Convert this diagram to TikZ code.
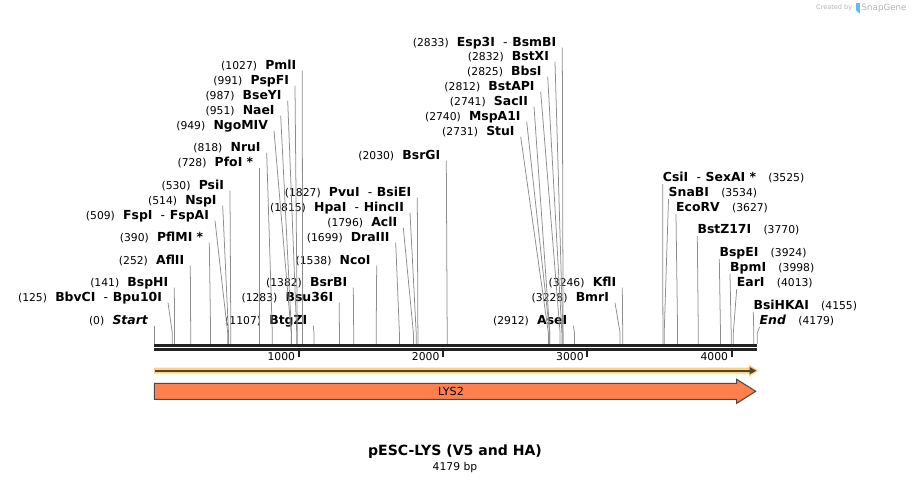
\documentclass[tikz,border=0pt]{standalone}
\usepackage{fontspec}
\setmainfont{DejaVu Sans}
\usetikzlibrary{positioning}
\definecolor{cutgray}{HTML}{8C8C8C}
\definecolor{backbone}{HTML}{222222}
\definecolor{lysfill}{HTML}{FF7F4F}
\definecolor{featedge}{HTML}{4A4A4A}
\definecolor{halo}{HTML}{FFD27F}
\definecolor{primerline}{HTML}{54472F}
\definecolor{creditgray}{HTML}{B4B4B4}
\definecolor{snapblue}{HTML}{5BC0EB}
\newcommand{\posfont}{\fontsize{9.2}{10}\selectfont\mdseries}
\newcommand{\sitefont}{\fontsize{10.6}{12}\selectfont\bfseries}
\newcommand{\lgap}{\hspace{7pt}}
\newcommand{\rgap}{\hspace{10.5pt}}
\newcommand{\enzdash}{\hspace{7pt}{\mdseries -}\hspace{4pt}}
\begin{document}
\begin{tikzpicture}[x=0.03cm,y=-0.03cm,
  lbl/.style={anchor=east, inner xsep=5pt, inner ysep=0.85pt, text height=7.6pt, text depth=0pt, font=\sitefont},
  rlbl/.style={anchor=west, inner xsep=0pt, inner ysep=2.1pt, text height=7.6pt, text depth=0pt, font=\sitefont},
  cut/.style={draw=cutgray, line width=0.65pt},
  tick/.style={draw=backbone, line width=1.7pt},
  ticklbl/.style={anchor=east, inner sep=0pt, font=\posfont}]
\useasboundingbox (0,0) rectangle (912,483);
\coordinate (bend) at (0,333);
% sites on the backbone
\coordinate (start-s) at (154.3,344);
\coordinate (bbvci-s) at (172.3,344);
\coordinate (bsphi-s) at (174.6,344);
\coordinate (aflii-s) at (190.7,344);
\coordinate (pflmi-s) at (210.6,344);
\coordinate (fspi-s) at (227.7,344);
\coordinate (nspi-s) at (228.5,344);
\coordinate (psii-s) at (230.8,344);
\coordinate (pfoi-s) at (259.3,344);
\coordinate (nrui-s) at (272.3,344);
\coordinate (ngomiv-s) at (291.2,344);
\coordinate (naei-s) at (291.5,344);
\coordinate (bseyi-s) at (296.7,344);
\coordinate (pspfi-s) at (297.3,344);
\coordinate (pmli-s) at (302.5,344);
\coordinate (btgzi-s) at (314.0,344);
\coordinate (bsu36i-s) at (339.4,344);
\coordinate (bsrbi-s) at (353.7,344);
\coordinate (ncoi-s) at (376.2,344);
\coordinate (draiii-s) at (399.4,344);
\coordinate (acli-s) at (413.4,344);
\coordinate (hpai-s) at (416.2,344);
\coordinate (pvui-s) at (417.9,344);
\coordinate (bsrgi-s) at (447.2,344);
\coordinate (stui-s) at (548.4,344);
\coordinate (mspa1i-s) at (549.7,344);
\coordinate (sacii-s) at (549.8,344);
\coordinate (bstapi-s) at (560.1,344);
\coordinate (bbsi-s) at (561.9,344);
\coordinate (bstxi-s) at (562.9,344);
\coordinate (esp3i-s) at (563.1,344);
\coordinate (asei-s) at (574.5,344);
\coordinate (bmri-s) at (620.1,344);
\coordinate (kfli-s) at (622.7,344);
\coordinate (csii-s) at (662.9,344);
\coordinate (snabi-s) at (664.2,344);
\coordinate (ecorv-s) at (677.6,344);
\coordinate (bstz17i-s) at (698.3,344);
\coordinate (bspei-s) at (720.5,344);
\coordinate (bpmi-s) at (731.2,344);
\coordinate (eari-s) at (733.3,344);
\coordinate (bsihkai-s) at (753.8,344);
\coordinate (end-s) at (757.3,344);
% labels left of their lines
\node[lbl] (start) at (154.3,320) {{\posfont(0)}\lgap\textit{Start}};
\node[lbl] (bbvci) at (168,297) {{\posfont(125)}\lgap BbvCI\enzdash Bpu10I};
\node[lbl] (bsphi) at (174.3,282) {{\posfont(141)}\lgap BspHI};
\node[lbl] (aflii) at (190.3,260) {{\posfont(252)}\lgap AflII};
\node[lbl] (pflmi) at (209.3,237) {{\posfont(390)}\lgap PflMI *};
\node[lbl] (fspi) at (215,215) {{\posfont(509)}\lgap FspI\enzdash FspAI};
\node[lbl] (nspi) at (222.7,200) {{\posfont(514)}\lgap NspI};
\node[lbl] (psii) at (230,185) {{\posfont(530)}\lgap PsiI};
\node[lbl] (pfoi) at (259.3,162) {{\posfont(728)}\lgap PfoI *};
\node[lbl] (nrui) at (266.7,147) {{\posfont(818)}\lgap NruI};
\node[lbl] (ngomiv) at (274,125) {{\posfont(949)}\lgap NgoMIV};
\node[lbl] (naei) at (280.7,110) {{\posfont(951)}\lgap NaeI};
\node[lbl] (bseyi) at (287.7,95) {{\posfont(987)}\lgap BseYI};
\node[lbl] (pspfi) at (295,80) {{\posfont(991)}\lgap PspFI};
\node[lbl] (pmli) at (302.3,65) {{\posfont(1027)}\lgap PmlI};
\node[lbl] (btgzi) at (313.3,320) {{\posfont(1107)}\lgap BtgZI};
\node[lbl] (bsu36i) at (339.3,297) {{\posfont(1283)}\lgap Bsu36I};
\node[lbl] (bsrbi) at (353.3,282) {{\posfont(1382)}\lgap BsrBI};
\node[lbl] (ncoi) at (376.7,260) {{\posfont(1538)}\lgap NcoI};
\node[lbl] (draiii) at (395.7,237) {{\posfont(1699)}\lgap DraIII};
\node[lbl] (acli) at (403.3,222) {{\posfont(1796)}\lgap AclI};
\node[lbl] (hpai) at (410,207) {{\posfont(1815)}\lgap HpaI\enzdash HincII};
\node[lbl] (pvui) at (417.3,192) {{\posfont(1827)}\lgap PvuI\enzdash BsiEI};
\node[lbl] (bsrgi) at (446.3,155) {{\posfont(2030)}\lgap BsrGI};
\node[lbl] (stui) at (520.7,131) {{\posfont(2731)}\lgap StuI};
\node[lbl] (mspa1i) at (526.7,116) {{\posfont(2740)}\lgap MspA1I};
\node[lbl] (sacii) at (534,101) {{\posfont(2741)}\lgap SacII};
\node[lbl] (bstapi) at (540.7,86) {{\posfont(2812)}\lgap BstAPI};
\node[lbl] (bbsi) at (547.7,71) {{\posfont(2825)}\lgap BbsI};
\node[lbl] (bstxi) at (555,56) {{\posfont(2832)}\lgap BstXI};
\node[lbl] (esp3i) at (562.3,42) {{\posfont(2833)}\lgap Esp3I\enzdash BsmBI};
\node[lbl] (asei) at (573.3,320) {{\posfont(2912)}\lgap AseI};
\node[lbl] (bmri) at (615,297) {{\posfont(3228)}\lgap BmrI};
\node[lbl] (kfli) at (622.3,282) {{\posfont(3246)}\lgap KflI};
% labels right of their lines
\node[rlbl] (csii) at (662.7,177) {CsiI\enzdash SexAI *\rgap{\posfont(3525)}};
\node[rlbl] (snabi) at (668.5,192) {SnaBI\rgap{\posfont(3534)}};
\node[rlbl] (ecorv) at (676,207) {EcoRV\rgap{\posfont(3627)}};
\node[rlbl] (bstz17i) at (697.3,229) {BstZ17I\rgap{\posfont(3770)}};
\node[rlbl] (bspei) at (719.3,252) {BspEI\rgap{\posfont(3924)}};
\node[rlbl] (bpmi) at (730,267) {BpmI\rgap{\posfont(3998)}};
\node[rlbl] (eari) at (736.7,282) {EarI\rgap{\posfont(4013)}};
\node[rlbl] (bsihkai) at (753.3,305) {BsiHKAI\rgap{\posfont(4155)}};
\node[rlbl] (end) at (759.5,320) {\textit{End}\rgap{\posfont(4179)}};
% lines from labels to sites
\draw[cut] (start.south east) -- (start-s |- bend) -- (start-s);
\draw[cut] (bbvci.south east) -- (bbvci-s |- bend) -- (bbvci-s);
\draw[cut] (bsphi.south east) -- (bsphi-s |- bend) -- (bsphi-s);
\draw[cut] (aflii.south east) -- (aflii-s |- bend) -- (aflii-s);
\draw[cut] (pflmi.south east) -- (pflmi-s |- bend) -- (pflmi-s);
\draw[cut] (fspi.south east) -- (fspi-s |- bend) -- (fspi-s);
\draw[cut] (nspi.south east) -- (nspi-s |- bend) -- (nspi-s);
\draw[cut] (psii.south east) -- (psii-s |- bend) -- (psii-s);
\draw[cut] (pfoi.south east) -- (pfoi-s |- bend) -- (pfoi-s);
\draw[cut] (nrui.south east) -- (nrui-s |- bend) -- (nrui-s);
\draw[cut] (ngomiv.south east) -- (ngomiv-s |- bend) -- (ngomiv-s);
\draw[cut] (naei.south east) -- (naei-s |- bend) -- (naei-s);
\draw[cut] (bseyi.south east) -- (bseyi-s |- bend) -- (bseyi-s);
\draw[cut] (pspfi.south east) -- (pspfi-s |- bend) -- (pspfi-s);
\draw[cut] (pmli.south east) -- (pmli-s |- bend) -- (pmli-s);
\draw[cut] (btgzi.south east) -- (btgzi-s |- bend) -- (btgzi-s);
\draw[cut] (bsu36i.south east) -- (bsu36i-s |- bend) -- (bsu36i-s);
\draw[cut] (bsrbi.south east) -- (bsrbi-s |- bend) -- (bsrbi-s);
\draw[cut] (ncoi.south east) -- (ncoi-s |- bend) -- (ncoi-s);
\draw[cut] (draiii.south east) -- (draiii-s |- bend) -- (draiii-s);
\draw[cut] (acli.south east) -- (acli-s |- bend) -- (acli-s);
\draw[cut] (hpai.south east) -- (hpai-s |- bend) -- (hpai-s);
\draw[cut] (pvui.south east) -- (pvui-s |- bend) -- (pvui-s);
\draw[cut] (bsrgi.south east) -- (bsrgi-s |- bend) -- (bsrgi-s);
\draw[cut] (stui.south east) -- (stui-s |- bend) -- (stui-s);
\draw[cut] (mspa1i.south east) -- (mspa1i-s |- bend) -- (mspa1i-s);
\draw[cut] (sacii.south east) -- (sacii-s |- bend) -- (sacii-s);
\draw[cut] (bstapi.south east) -- (bstapi-s |- bend) -- (bstapi-s);
\draw[cut] (bbsi.south east) -- (bbsi-s |- bend) -- (bbsi-s);
\draw[cut] (bstxi.south east) -- (bstxi-s |- bend) -- (bstxi-s);
\draw[cut] (esp3i.south east) -- (esp3i-s |- bend) -- (esp3i-s);
\draw[cut] (asei.south east) -- (asei-s |- bend) -- (asei-s);
\draw[cut] (bmri.south east) -- (bmri-s |- bend) -- (bmri-s);
\draw[cut] (kfli.south east) -- (kfli-s |- bend) -- (kfli-s);
\draw[cut] (csii.south west) -- (csii-s |- bend) -- (csii-s);
\draw[cut] (snabi.south west) -- (snabi-s |- bend) -- (snabi-s);
\draw[cut] (ecorv.south west) -- (ecorv-s |- bend) -- (ecorv-s);
\draw[cut] (bstz17i.south west) -- (bstz17i-s |- bend) -- (bstz17i-s);
\draw[cut] (bspei.south west) -- (bspei-s |- bend) -- (bspei-s);
\draw[cut] (bpmi.south west) -- (bpmi-s |- bend) -- (bpmi-s);
\draw[cut] (eari.south west) -- (eari-s |- bend) -- (eari-s);
\draw[cut] (bsihkai.south west) -- (bsihkai-s |- bend) -- (bsihkai-s);
\draw[cut] (end.south west) -- (end-s |- bend) -- (end-s);
% backbone and ruler
\draw[draw=backbone, line width=2.3pt] (154.3,345.4) -- (757.3,345.4);
\draw[draw=backbone, line width=2.0pt] (154.3,349.5) -- (757.3,349.5);
\draw[tick] (298.6,351) -- (298.6,357.5);
\draw[tick] (442.9,351) -- (442.9,357.5);
\draw[tick] (587.2,351) -- (587.2,357.5);
\draw[tick] (731.5,351) -- (731.5,357.5);
\node[ticklbl] (t1000) at (295.3,356.5) {1000};
\node[ticklbl] (t2000) at (439.6,356.5) {2000};
\node[ticklbl] (t3000) at (583.9,356.5) {3000};
\node[ticklbl] (t4000) at (728.2,356.5) {4000};
% features
\fill[halo] (154,367.7) -- (749,367.7) -- (749,364.6) -- (758.6,370.7) -- (749,376.8) -- (749,373.7) -- (154,373.7) -- cycle;
\draw[draw=primerline, line width=1.7pt] (154.5,370.7) -- (751,370.7);
\fill[primerline] (756.3,370.7) -- (749.5,366.9) -- (749.5,374.5) -- cycle;
\draw[fill=lysfill, draw=featedge, line width=0.9pt] (154.3,383.3) -- (736.7,383.3) -- (736.7,379.3) -- (755.7,391.3) -- (736.7,403.3) -- (736.7,399.3) -- (154.3,399.3) -- cycle;
\node[font=\fontsize{9.5}{11}\selectfont] (lys2) at (451,391.3) {LYS2};
% title
\node[font=\fontsize{12}{14}\selectfont\bfseries] (title) at (455,452) {pESC-LYS (V5 and HA)};
\node[font=\posfont] (length) at (455,467.5) {4179 bp};
% credit
\node[font=\fontsize{5.6}{7}\selectfont, text=creditgray, anchor=east, inner sep=0pt] (created) at (852.5,8) {Created by};
\fill[snapblue] (856,3.2) -- (859.8,3.2) -- (859.8,13.5) -- (856,10.5) -- cycle;
\node[font=\fontsize{7.4}{9}\selectfont, text=creditgray, anchor=west, inner sep=0pt] (snapgene) at (861.5,8) {SnapGene};
\end{tikzpicture}
\end{document}
